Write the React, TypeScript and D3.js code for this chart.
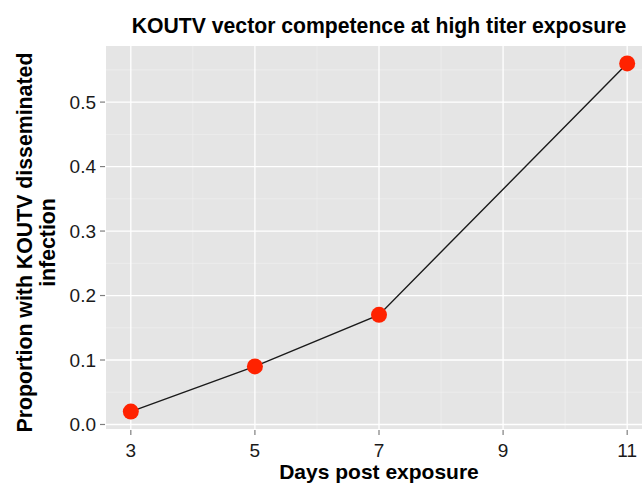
import * as d3 from 'd3';

// Days post exposure and proportion with disseminated infection
const days = [3, 5, 7, 11];
const proportions = [0.02, 0.09, 0.17, 0.56];
const xTicks = [3, 5, 7, 9, 11];
const yTicks = [0, 0.1, 0.2, 0.3, 0.4, 0.5];

const WIDTH = 642;
const HEIGHT = 485;
const PANEL = { left: 106, right: 652, top: 46, bottom: 429 };
const FONT = '"Liberation Sans", Arial, Helvetica, sans-serif';

export default function App() {
  // ggplot-style 5% expansion around the data range
  const xExt = d3.extent(days) as [number, number];
  const xPad = (xExt[1] - xExt[0]) * 0.05;
  const xScale = d3
    .scaleLinear()
    .domain([xExt[0] - xPad, xExt[1] + xPad])
    .range([PANEL.left, PANEL.right]);

  const yExt = d3.extent(proportions) as [number, number];
  const yPad = (yExt[1] - yExt[0]) * 0.05;
  const yScale = d3
    .scaleLinear()
    .domain([yExt[0] - yPad, yExt[1] + yPad])
    .range([PANEL.bottom, PANEL.top]);

  // minor grid lines halfway between major ticks
  const xMinor = xTicks.slice(0, -1).map((t, i) => (t + xTicks[i + 1]) / 2);
  const yMinor = [...yTicks.slice(0, -1).map((t, i) => (t + yTicks[i + 1]) / 2), 0.55];

  const line = d3
    .line<number>()
    .x((_, i) => xScale(days[i]))
    .y((d) => yScale(d));

  const cx = (PANEL.left + PANEL.right) / 2;
  const cy = (PANEL.top + PANEL.bottom) / 2 + 5;

  return (
    <svg
      width={WIDTH}
      height={HEIGHT}
      style={{ position: 'absolute', left: 0, top: 0, fontFamily: FONT }}
    >
      <rect width={WIDTH} height={HEIGHT} fill="#ffffff" />
      <rect
        x={PANEL.left}
        y={PANEL.top}
        width={PANEL.right - PANEL.left}
        height={PANEL.bottom - PANEL.top}
        fill="#E5E5E5"
      />
      {/* minor grid */}
      {xMinor.map((t) => (
        <line key={`xm${t}`} x1={xScale(t)} x2={xScale(t)} y1={PANEL.top} y2={PANEL.bottom} stroke="#F2F2F2" strokeWidth={0.6} />
      ))}
      {yMinor.map((t) => (
        <line key={`ym${t}`} x1={PANEL.left} x2={PANEL.right} y1={yScale(t)} y2={yScale(t)} stroke="#F2F2F2" strokeWidth={0.6} />
      ))}
      {/* major grid */}
      {xTicks.map((t) => (
        <line key={`xg${t}`} x1={xScale(t)} x2={xScale(t)} y1={PANEL.top} y2={PANEL.bottom} stroke="#ffffff" strokeWidth={1.3} />
      ))}
      {yTicks.map((t) => (
        <line key={`yg${t}`} x1={PANEL.left} x2={PANEL.right} y1={yScale(t)} y2={yScale(t)} stroke="#ffffff" strokeWidth={1.3} />
      ))}

      <path d={line(proportions) ?? ''} fill="none" stroke="#1a1a1a" strokeWidth={1.4} />
      {proportions.map((p, i) => (
        <circle key={i} cx={xScale(days[i])} cy={yScale(p)} r={8} fill="#FF2200" />
      ))}

      {/* x axis */}
      {xTicks.map((t) => (
        <g key={`xt${t}`}>
          <line x1={xScale(t)} x2={xScale(t)} y1={PANEL.bottom + 1} y2={PANEL.bottom + 6} stroke="#7F7F7F" strokeWidth={1.2} />
          <text x={xScale(t)} y={457} textAnchor="middle" fontSize={19} fill="#1a1a1a">
            {t}
          </text>
        </g>
      ))}
      {/* y axis */}
      {yTicks.map((t) => (
        <g key={`yt${t}`}>
          <line x1={PANEL.left - 6} x2={PANEL.left - 1} y1={yScale(t)} y2={yScale(t)} stroke="#7F7F7F" strokeWidth={1.2} />
          <text x={96} y={yScale(t)} dy="0.36em" textAnchor="end" fontSize={19} fill="#1a1a1a">
            {d3.format('.1f')(t)}
          </text>
        </g>
      ))}

      <text x={cx} y={33} textAnchor="middle" fontSize={21.2} fontWeight="bold" fill="#000">
        KOUTV vector competence at high titer exposure
      </text>
      <text x={cx} y={479} textAnchor="middle" fontSize={21} fontWeight="bold" fill="#000">
        Days post exposure
      </text>
      <g transform={`translate(32, ${cy}) rotate(-90)`}>
        <text x={0} y={0} textAnchor="middle" fontSize={21.3} fontWeight="bold" fill="#000">
          Proportion with KOUTV disseminated
        </text>
        <text x={0} y={23} textAnchor="middle" fontSize={21.3} fontWeight="bold" fill="#000">
          infection
        </text>
      </g>
    </svg>
  );
}
